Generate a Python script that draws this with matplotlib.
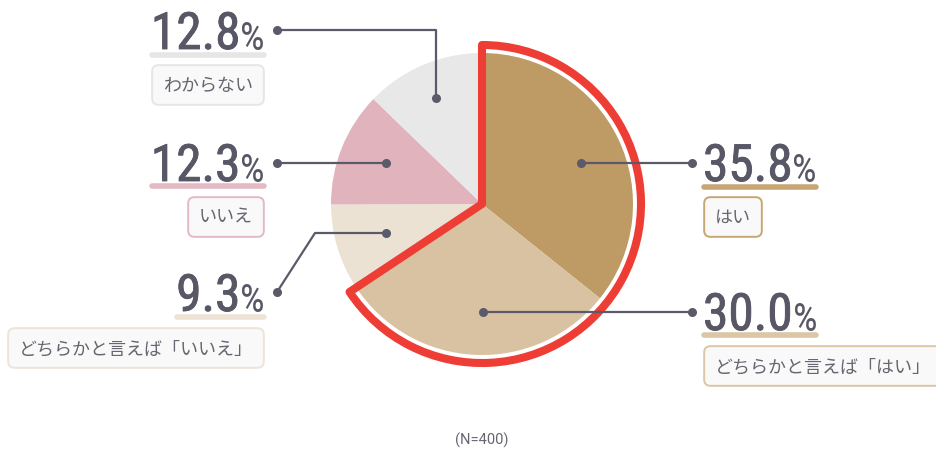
import matplotlib
matplotlib.use('Agg')
import matplotlib.pyplot as plt
import matplotlib.patheffects as pe
from matplotlib import font_manager
from matplotlib.patches import Wedge

# data
labels = ['はい', 'どちらかと言えば「はい」', 'どちらかと言えば「いいえ」', 'いいえ', 'わからない']
values = [35.8, 30.0, 9.3, 12.3, 12.8]
colors = ['#be9a65', '#d9c2a1', '#ece2d3', '#e1b3bd', '#e8e8e8']
edge_colors = ['#c8a674', '#dcc6a6', '#eee4d6', '#e4b9c3', '#e6e6e6']
note = '(N=400)'

W, H = 936, 452
def Y(y):
    return H - y

installed = {f.name for f in font_manager.fontManager.ttflist}
num_font = 'Roboto'
for cand in ['Roboto Condensed', 'Liberation Sans Narrow']:
    if cand in installed:
        num_font = cand
        break
jp_font = ['Noto Sans CJK JP', 'DejaVu Sans']

text_dark = '#575766'
line_col = '#5a5a6a'
red = '#ee3d35'

fig = plt.figure(figsize=(W / 100, H / 100), dpi=100)
ax = fig.add_axes([0, 0, 1, 1])

cx, cy, R = 482, 205, 151
ax.pie(values, colors=colors, startangle=90, counterclock=False,
       center=(cx, Y(cy)), radius=R, frame=True,
       wedgeprops=dict(linewidth=0))
ax.set_xlim(0, W)
ax.set_ylim(0, H)
ax.axis('off')

# red outline around the "yes" side
frac = (values[0] + values[1]) / sum(values)
ax.add_patch(Wedge((cx, Y(cy)), 159, 90 - 360 * frac, 90, fill=False,
                   edgecolor=red, linewidth=5.8, joinstyle='round',
                   capstyle='round', zorder=5))

# leader paths (pixel layout), percent anchor, underline y, box text y
layout = [
    dict(side='r', path=[(581, 164), (692, 164)], x=703, base=182, under=188, box=218),
    dict(side='r', path=[(483, 313), (692, 313)], x=703, base=331, under=336, box=367),
    dict(side='l', path=[(386, 234), (315, 234), (277, 293)], x=265, base=312, under=318, box=349),
    dict(side='l', path=[(386, 164), (277, 164)], x=265, base=182, under=187, box=218),
    dict(side='l', path=[(436, 99), (436, 31), (277, 31)], x=265, base=50, under=56, box=86),
]

renderer = fig.canvas.get_renderer()

def width_of(t):
    return t.get_window_extent(renderer=renderer).width

thick = [pe.withStroke(linewidth=0.6, foreground=text_dark)]

for lab, val, col, ecol, lay in zip(labels, values, colors, edge_colors, layout):
    xs = [p[0] for p in lay['path']]
    ys = [Y(p[1]) for p in lay['path']]
    ax.plot(xs, ys, color=line_col, lw=1.6, zorder=6, solid_capstyle='round')
    ax.plot([xs[0], xs[-1]], [ys[0], ys[-1]], 'o', color=line_col, ms=6.5,
            mec='none', zorder=7)

    num = ax.text(0, Y(lay['base']), f'{val:.1f}', fontsize=37, color=text_dark,
                  fontfamily=num_font, va='baseline', ha='left', zorder=8,
                  path_effects=thick)
    pct = ax.text(0, Y(lay['base']), '%', fontsize=28, color=text_dark,
                  fontfamily=num_font, va='baseline', ha='left', zorder=8)
    wn, wp = width_of(num), width_of(pct)
    if lay['side'] == 'r':
        x0 = lay['x']
    else:
        x0 = lay['x'] - wn - wp
    num.set_x(x0)
    pct.set_x(x0 + wn)
    x1 = x0 + wn + wp
    ax.plot([x0 + 1, x1 - 1], [Y(lay['under'])] * 2, color=ecol, lw=4,
            solid_capstyle='round', zorder=7)

    bbox = dict(boxstyle='round,pad=0.6,rounding_size=0.35', fc='#f9f9f9',
                ec=ecol, lw=1.4)
    if lay['side'] == 'r':
        ax.text(lay['x'] + 12, Y(lay['box']), lab, ha='left', va='center',
                fontsize=13, color='#666670', family=jp_font, bbox=bbox, zorder=8)
    else:
        ax.text(lay['x'] - 12, Y(lay['box']), lab, ha='right', va='center',
                fontsize=13, color='#666670', family=jp_font, bbox=bbox, zorder=8)

ax.text(cx, Y(440), note, ha='center', va='center', fontsize=10.5,
        color='#666670', fontfamily='Roboto')

fig.savefig('out.png', dpi=100)
